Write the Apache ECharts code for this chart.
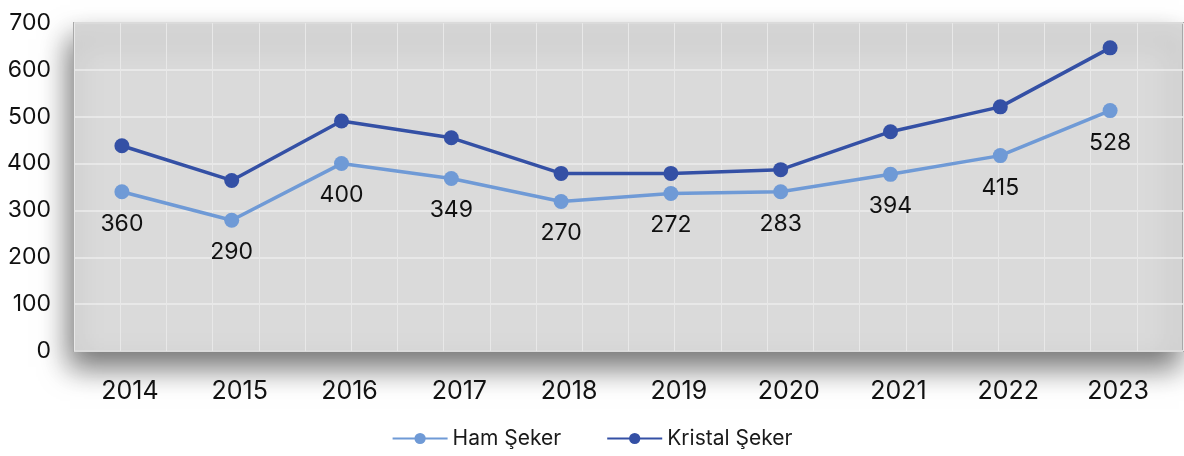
<!DOCTYPE html>
<html>
<head>
<meta charset="utf-8">
<script src="https://cdn.jsdelivr.net/npm/echarts@6/dist/echarts.min.js"></script>
<style>
  html, body { margin: 0; padding: 0; background: #fff; }
  #main { width: 1184px; height: 456px; }
</style>
</head>
<body>
<div id="main"></div>
<script>
var years = ['2014', '2015', '2016', '2017', '2018', '2019', '2020', '2021', '2022', '2023'];
var hamSeker = [340, 279, 400, 368, 319, 336, 340, 377, 417, 513];
var kristalSeker = [438, 364, 491, 455, 379, 379, 387, 468, 521, 647];
// printed labels under the Ham Şeker points (as written on the chart)
var hamLabels = [360, 290, 400, 349, 270, 272, 283, 394, 415, 528];
var yTicks = [0, 100, 200, 300, 400, 500, 600, 700];

var font = 'Inter';
var myChart = echarts.init(document.getElementById('main'));

myChart.setOption({
    animation: false,
    textStyle: { fontFamily: font },
    legend: {
        bottom: 2,
        left: 'center',
        itemWidth: 55,
        itemHeight: 14,
        itemGap: 45,
        textStyle: { fontSize: 21, color: '#1a1a1a', fontFamily: font },
        data: ['Ham Şeker', 'Kristal Şeker']
    },
    grid: [{
        // plot background
        left: 74, right: 1, top: 23, bottom: 105,
        show: true,
        backgroundColor: '#dadada',
        borderColor: '#a8a8a8',
        borderWidth: 2,
        shadowColor: 'rgba(0,0,0,0.55)',
        shadowBlur: 28,
        shadowOffsetY: 16,
        shadowOffsetX: -4
    }, {
        // series area
        left: 67, right: 19, top: 23, bottom: 105
    }],
    xAxis: [{
        gridIndex: 0,
        type: 'value',
        min: 0, max: 24, interval: 1,
        axisLine: { show: false },
        axisTick: { show: false },
        axisLabel: { show: false },
        splitLine: { lineStyle: { color: '#e8e8e8', width: 1 } }
    }, {
        gridIndex: 1,
        type: 'category',
        data: years,
        boundaryGap: true,
        axisLine: { show: false },
        axisTick: { show: false },
        splitLine: { show: false },
        axisLabel: {
            fontSize: 25,
            color: '#111',
            margin: 28,
            padding: [0, 0, 0, 16]
        }
    }],
    yAxis: [{
        gridIndex: 0,
        type: 'value',
        min: yTicks[0], max: yTicks[yTicks.length - 1], interval: 100,
        axisLine: { show: false },
        axisTick: { show: false },
        axisLabel: { fontSize: 23, color: '#111', margin: 23 },
        splitLine: { lineStyle: { color: '#ececec', width: 1.5 } }
    }, {
        gridIndex: 1,
        type: 'value',
        min: yTicks[0], max: yTicks[yTicks.length - 1],
        show: false,
        splitLine: { show: false }
    }],
    series: [{
        name: 'Ham Şeker',
        type: 'line',
        xAxisIndex: 1,
        yAxisIndex: 1,
        data: hamSeker,
        symbol: 'circle',
        symbolSize: 15,
        color: '#6f9ad6',
        lineStyle: { width: 3.5, color: '#6f9ad6' },
        label: {
            show: true,
            position: 'bottom',
            distance: 13,
            fontSize: 23,
            color: '#111',
            formatter: function (p) { return hamLabels[p.dataIndex]; }
        },
        z: 3
    }, {
        name: 'Kristal Şeker',
        type: 'line',
        xAxisIndex: 1,
        yAxisIndex: 1,
        data: kristalSeker,
        symbol: 'circle',
        symbolSize: 15,
        color: '#3450a5',
        lineStyle: { width: 3.5, color: '#3450a5' },
        z: 4
    }]
});
</script>
</body>
</html>
